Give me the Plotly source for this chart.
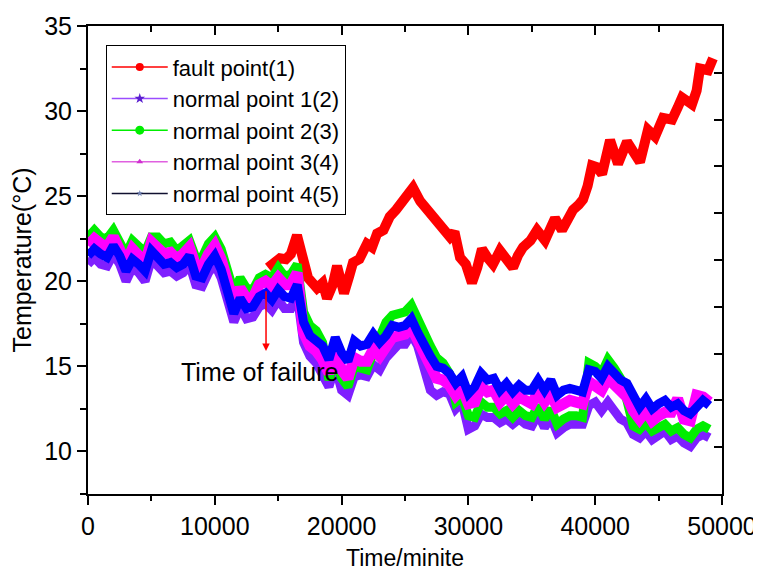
import plotly.graph_objects as go

# Sampling grid for the normal points (minutes).
time = list(range(0, 49001, 500))

normal_1 = [
    21.0, 21.4, 21.0, 20.9, 21.6, 21.0, 20.0, 20.8, 20.5, 20.0,
    21.3, 20.9, 20.5, 20.6, 20.3, 20.5, 21.0, 19.8, 19.7, 20.5,
    21.0, 20.2, 18.8, 17.6, 18.5, 17.8, 17.9, 18.5, 18.7, 18.3,
    18.9, 18.4, 18.4, 19.2, 16.4, 15.6, 15.2, 14.6, 13.8, 15.0,
    13.6, 13.3, 14.4, 14.5, 14.4, 15.1, 14.8, 15.5, 16.0, 16.3,
    16.3, 16.9, 16.2, 15.0, 13.6, 13.3, 13.5, 13.4, 12.5, 12.9,
    11.3, 11.5, 12.2, 12.0, 12.0, 11.7, 11.9, 11.6, 11.9, 11.6,
    11.5, 12.2, 11.4, 12.0, 11.1, 11.4, 11.6, 11.6, 11.6, 12.7,
    12.9, 12.4, 12.9, 12.4, 11.9, 11.7, 11.0, 10.8, 11.2, 10.7,
    10.9, 11.2, 10.7, 10.9, 10.5, 10.3, 10.8, 11.0, 10.8,
]
normal_2 = [
    22.6, 23.0, 22.6, 22.5, 23.0, 22.3, 21.6, 22.4, 22.0, 21.7,
    22.6, 22.6, 22.2, 22.3, 21.8, 22.1, 22.4, 21.4, 21.4, 22.2,
    22.6, 21.9, 20.6, 19.4, 20.2, 19.6, 19.5, 20.2, 20.4, 20.2,
    20.8, 20.3, 20.4, 21.0, 18.2, 17.4, 17.1, 16.4, 14.2, 15.4,
    14.3, 13.8, 15.0, 14.9, 14.8, 15.8, 16.6, 17.6, 18.0, 18.1,
    18.2, 18.6, 17.7, 16.8, 16.2, 15.5, 15.2, 14.6, 12.9, 13.2,
    12.1, 12.0, 12.9, 12.6, 12.6, 12.2, 12.4, 12.0, 12.4, 12.1,
    12.0, 12.7, 11.9, 12.5, 11.6, 11.9, 12.1, 12.1, 12.0, 15.2,
    15.0, 14.6, 15.4, 14.9, 14.3, 13.0, 11.5, 11.3, 11.7, 11.2,
    11.4, 11.6, 11.2, 11.4, 11.0, 10.8, 11.3, 11.5, 11.3,
]
normal_3 = [
    22.1, 22.5, 22.2, 22.0, 22.6, 22.0, 21.1, 21.9, 21.5, 21.1,
    22.3, 22.0, 21.6, 21.7, 21.3, 21.6, 22.0, 20.9, 20.8, 21.6,
    22.1, 21.3, 19.9, 18.7, 19.6, 19.0, 19.0, 19.8, 20.0, 19.7,
    20.2, 19.8, 19.8, 20.5, 17.0, 16.2, 15.9, 15.4, 14.6, 15.9,
    14.8, 14.3, 15.5, 15.3, 15.3, 16.0, 15.6, 16.1, 16.7, 16.8,
    16.9, 17.3, 16.6, 15.6, 14.9, 14.3, 14.2, 13.9, 13.3, 13.7,
    12.8, 12.9, 13.8, 13.5, 13.6, 12.9, 13.3, 12.8, 13.2, 12.9,
    12.8, 13.5, 12.9, 13.4, 12.6, 12.8, 13.0, 12.9, 12.8, 14.1,
    13.9, 13.6, 14.3, 13.9, 13.5, 13.2, 12.4, 11.9, 12.4, 11.8,
    12.1, 12.3, 12.3, 13.1, 11.9, 11.8, 13.3, 13.2, 12.9,
]
normal_4 = [
    21.5, 21.9, 21.6, 21.4, 22.1, 21.5, 20.6, 21.3, 21.0, 20.6,
    21.8, 21.4, 21.0, 21.1, 20.8, 21.0, 21.5, 20.3, 20.2, 21.0,
    21.5, 20.7, 19.3, 18.1, 19.0, 18.4, 18.5, 19.1, 19.3, 18.9,
    19.5, 19.1, 19.0, 19.8, 17.6, 16.8, 16.5, 16.2, 15.4, 16.7,
    15.8, 15.3, 16.5, 16.2, 16.3, 16.9, 16.4, 16.8, 17.4, 17.3,
    17.4, 17.8, 17.0, 16.2, 15.6, 15.0, 14.9, 14.6, 14.0, 14.4,
    13.4, 13.8, 14.6, 14.2, 14.3, 13.6, 14.0, 13.5, 13.9, 13.6,
    13.6, 14.2, 13.6, 14.2, 13.3, 13.6, 13.7, 13.6, 13.5, 14.8,
    14.7, 14.3, 15.0, 14.6, 14.2, 14.0, 13.2, 12.6, 13.1, 12.5,
    12.8, 13.0, 12.6, 12.8, 12.4, 12.2, 12.6, 13.0, 12.7,
]

# The fault point only shows above the others after the failure.
fault_time = [
    14200, 14700, 15140, 15600, 16000, 16480, 16900, 17350, 18060, 18500,
    18850, 19300, 19640, 20190, 20600, 20900, 21400, 22000, 22400, 22800,
    23300, 23800, 24300, 24840, 25250, 25630, 26200, 26730, 27200, 27760,
    28100, 28550, 28900, 29340, 29800, 30280, 30700, 31070, 31500, 31940,
    32490, 33000, 33520, 33900, 34310, 34900, 35410, 36040, 36830, 37380,
    38250, 38700, 39040, 39400, 39750, 40150, 40540, 41170, 41800, 42510,
    43000, 43530, 44160, 44720, 45350, 46060, 46500, 46850, 47630, 48000,
    48260, 48900, 49290,
]
fault_temp = [
    20.8, 21.1, 21.35, 21.3, 21.6, 22.7, 21.5, 20.2, 19.6, 19.9,
    19.0, 19.8, 20.9, 19.3, 20.3, 21.1, 21.3, 22.2, 22.0, 22.8,
    23.0, 23.8, 24.2, 24.8, 25.0, 25.5, 24.7, 24.2, 23.9, 23.3,
    23.1, 22.6, 22.9, 21.4, 21.0, 19.9, 20.8, 21.9, 21.4, 21.0,
    21.8, 21.4, 20.8, 21.5, 22.0, 22.4, 23.0, 22.4, 23.7, 23.0,
    24.2, 24.5, 24.8, 25.6, 26.8, 26.7, 26.3, 28.3, 26.9, 28.2,
    27.5, 27.0, 28.9, 28.5, 29.6, 29.5, 30.2, 30.8, 30.4, 31.2,
    32.5, 32.4, 33.1,
]

names = [
    "fault point(1)",
    "normal point 1(2)",
    "normal point 2(3)",
    "normal point 3(4)",
    "normal point 4(5)",
]

FONT = "Liberation Sans, Arial, sans-serif"

fig = go.Figure()

# Data bands, drawn in the same order as the legend.
series = [
    (fault_time, fault_temp, "#ff0000", 10),
    (time, normal_1, "#7f1fff", 9),
    (time, normal_2, "#00ee00", 9),
    (time, normal_3, "#ff00ff", 11),
    (time, normal_4, "#0000ff", 9),
]
for xs, ys, color, width in series:
    fig.add_trace(
        go.Scatter(
            x=xs, y=ys, mode="lines", showlegend=False, hoverinfo="skip",
            line=dict(color=color, width=width),
        )
    )

# Legend-only entries with thin lines and small symbols.
legend_style = [
    ("#ff0000", "#ff0000", "circle", 8),
    ("#9a4dff", "#5a1fcf", "star", 8),
    ("#00ee00", "#00ee00", "circle", 9),
    ("#e060e0", "#d030d0", "triangle-up", 6),
    ("#101030", "#7080b0", "star", 5),
]
for name, (lcol, mcol, sym, size) in zip(names, legend_style):
    fig.add_trace(
        go.Scatter(
            x=[None], y=[None], mode="lines+markers", name=name,
            line=dict(color=lcol, width=1.5),
            marker=dict(color=mcol, symbol=sym, size=size),
        )
    )

# Failure marker.
fig.add_annotation(
    x=14040, y=15.9, ax=14040, ay=19.5, xref="x", yref="y",
    axref="x", ayref="y", text="", showarrow=True,
    arrowhead=2, arrowsize=1, arrowwidth=1.5, arrowcolor="#ff0000",
)
fig.add_annotation(
    x=7150, y=14.65, xref="x", yref="y", text="Time of failure",
    showarrow=False, xanchor="left", yanchor="middle",
    font=dict(family=FONT, size=25, color="black"),
)

# The page body adds an 8px offset; size the figure so nothing overflows.
fig.update_layout(
    width=753,
    height=567,
    margin=dict(l=80, r=39, t=18, b=81),
    paper_bgcolor="white",
    plot_bgcolor="white",
    font=dict(family=FONT, color="black"),
    showlegend=True,
    legend=dict(
        x=0.028, y=0.959, xanchor="left", yanchor="top",
        bgcolor="white", bordercolor="black", borderwidth=1,
        font=dict(family=FONT, size=22), itemwidth=56,
        tracegroupgap=0,
    ),
    xaxis=dict(
        range=[0, 50000], dtick=10000, showgrid=False, zeroline=False,
        automargin=False,
        showline=True, linecolor="black", linewidth=2,
        ticks="outside", ticklen=9, tickwidth=2, tickcolor="black",
        minor=dict(dtick=5000, ticks="outside", ticklen=5, tickwidth=2,
                   tickcolor="black"),
        tickfont=dict(size=25), tickformat="d",
        title=dict(text="Time/minite", font=dict(size=23), standoff=11),
    ),
    yaxis=dict(
        range=[7.5, 35], dtick=5, tick0=0, showgrid=False, zeroline=False,
        automargin=False,
        showline=True, linecolor="black", linewidth=2,
        ticks="outside", ticklen=9, tickwidth=2, tickcolor="black",
        minor=dict(dtick=2.5, ticks="outside", ticklen=6, tickwidth=2,
                   tickcolor="black"),
        tickfont=dict(size=25),
        title=dict(text="Temperature(°C)", font=dict(size=25), standoff=8),
    ),
    xaxis2=dict(
        overlaying="x", side="top", matches="x", showticklabels=False,
        automargin=False,
        showgrid=False, zeroline=False, showline=True, linecolor="black",
        linewidth=2, ticks="inside", ticklen=9, tickwidth=2,
        tickcolor="black", dtick=10000,
        minor=dict(dtick=5000, ticks="inside", ticklen=6, tickwidth=2,
                   tickcolor="black"),
    ),
    yaxis2=dict(
        overlaying="y", side="right", range=[0, 10], showticklabels=False,
        automargin=False,
        showgrid=False, zeroline=False, showline=True, linecolor="black",
        linewidth=2, ticks="inside", ticklen=8, tickwidth=2,
        tickcolor="black", tickvals=[1, 2, 3, 4, 5, 6, 7, 8, 9],
    ),
)

# Dummy trace so the mirrored top and right axes are drawn.
fig.add_trace(go.Scatter(x=[None], y=[None], xaxis="x2", yaxis="y2",
                         showlegend=False, hoverinfo="skip"))

fig.write_html("out.html")
